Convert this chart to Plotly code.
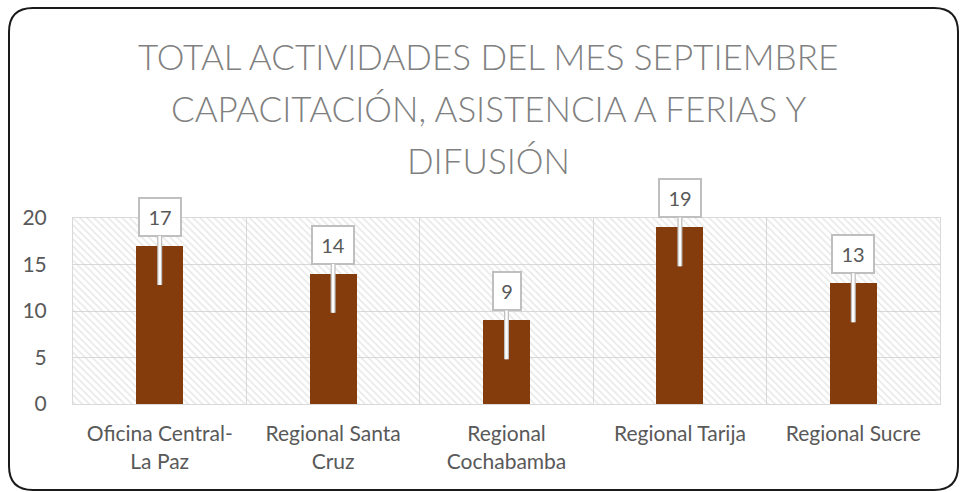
import plotly.graph_objects as go

categories = ["Oficina Central-<br>La Paz", "Regional Santa<br>Cruz", "Regional<br>Cochabamba",
              "Regional Tarija", "Regional Sucre"]
values = [17, 14, 9, 19, 13]
title_lines = ["TOTAL ACTIVIDADES DEL MES SEPTIEMBRE",
               "CAPACITACIÓN, ASISTENCIA A FERIAS Y",
               "DIFUSIÓN"]
y_ticks = [0, 5, 10, 15, 20]

W, H = 961, 492
L, R, T, B = 73, 940, 218, 404
FONT = "Lato"
BAR = "#843C0C"
GRID = "#D9D9D9"
TXT = "#595959"


def px(x):
    return (x - L) / (R - L)


def py(y):
    return (B - y) / (B - T)


fig = go.Figure()

# hatched plot background (decorative) on base axes
fig.add_trace(go.Bar(
    x=[0.5], y=[1], width=[1], xaxis="x", yaxis="y",
    marker=dict(color="rgba(0,0,0,0)", line=dict(width=0),
                pattern=dict(shape="\\", fgcolor="#D0D0D0", bgcolor="rgba(0,0,0,0)",
                             size=5, solidity=0.3, fillmode="overlay")),
    hoverinfo="skip", showlegend=False,
))

fig.add_trace(go.Bar(
    x=categories, y=values, xaxis="x2", yaxis="y2",
    marker=dict(color=BAR, line=dict(width=0)),
    width=0.27, showlegend=False,
))

annotations = []
for c, v in zip(categories, values):
    label = str(v)
    for col, w in (("#BFBFBF", 5), ("white", 2.5)):
        annotations.append(dict(
            x=c, y=v - 4.2, xref="x2", yref="y2",
            ax=c, ay=v + 3.1, axref="x2", ayref="y2",
            text=label, showarrow=True, arrowhead=0, arrowwidth=w, arrowcolor=col,
            font=dict(family=FONT, size=20, color=TXT),
            bgcolor="white", bordercolor="#BFBFBF", borderwidth=2, borderpad=5,
            width=14 * len(label) + 2, height=26, align="center", valign="middle",
        ))

title_y = [56, 108, 160]
for t, yy in zip(title_lines, title_y):
    annotations.append(dict(
        x=px(488), y=py(yy), xref="paper", yref="paper",
        text=t, showarrow=False, xanchor="center", yanchor="middle",
        font=dict(family=FONT, size=35, color="#808080", weight=300),
    ))

# rounded outer border
x0, x1, y0, y1, r = 9, 958, 8, 490, 24
path = (
    f"M {px(x0 + r)} {py(y0)} L {px(x1 - r)} {py(y0)} "
    f"Q {px(x1)} {py(y0)} {px(x1)} {py(y0 + r)} "
    f"L {px(x1)} {py(y1 - r)} Q {px(x1)} {py(y1)} {px(x1 - r)} {py(y1)} "
    f"L {px(x0 + r)} {py(y1)} Q {px(x0)} {py(y1)} {px(x0)} {py(y1 - r)} "
    f"L {px(x0)} {py(y0 + r)} Q {px(x0)} {py(y0)} {px(x0 + r)} {py(y0)} Z"
)

fig.update_layout(
    width=W, height=H,
    margin=dict(l=L, r=W - R, t=T, b=H - B),
    paper_bgcolor="white", plot_bgcolor="white",
    barmode="overlay", bargap=0,
    annotations=annotations,
    shapes=[dict(type="path", path=path, xref="paper", yref="paper",
                 line=dict(color="#1A1A1A", width=2), layer="above")],
    xaxis=dict(range=[0, 1], visible=False, fixedrange=True),
    yaxis=dict(range=[0, 1], visible=False, fixedrange=True),
    xaxis2=dict(overlaying="x", type="category", tickson="boundaries",
                showgrid=True, gridcolor=GRID, gridwidth=1,
                showline=True, linecolor=GRID, linewidth=1, mirror=True,
                ticks="", tickfont=dict(family=FONT, size=21, color=TXT),
                ticklabelstandoff=11),
    yaxis2=dict(overlaying="y", range=[0, 20], tickvals=y_ticks,
                showgrid=True, gridcolor=GRID, gridwidth=1,
                showline=True, linecolor=GRID, linewidth=1, mirror=True,
                zeroline=False, ticks="",
                tickfont=dict(family=FONT, size=21, color=TXT),
                ticklabelstandoff=21),
    font=dict(family=FONT),
)

fig.write_html("out.html", config={"displayModeBar": False},
               post_script="document.body.style.margin='0';document.body.style.overflow='hidden';")
